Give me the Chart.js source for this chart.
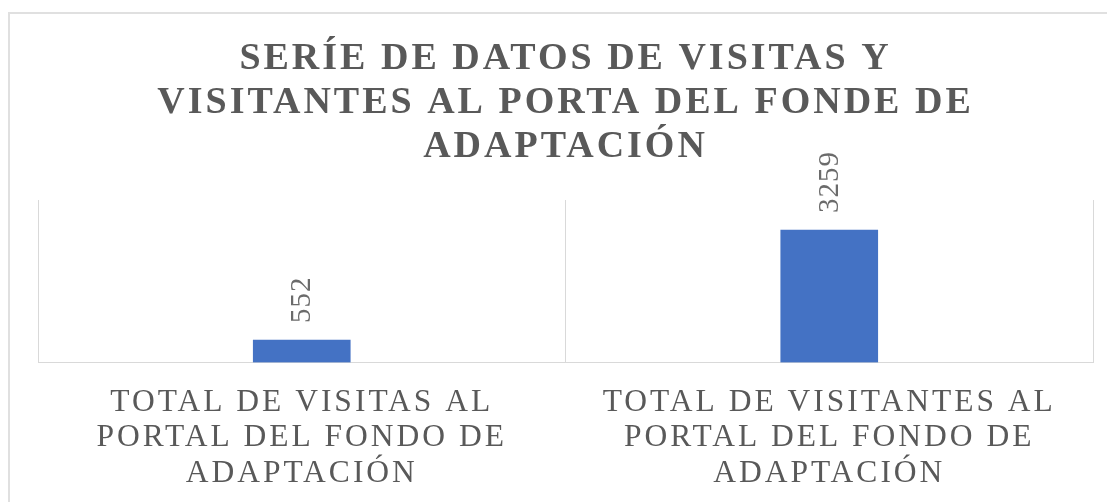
<!DOCTYPE html>
<html>
<head>
<meta charset="utf-8">
<script src="https://cdn.jsdelivr.net/npm/chart.js@4"></script>
<style>
  html, body { margin: 0; padding: 0; background: #fff; overflow: hidden; width: 1107px; height: 502px; }
  #frame { position: absolute; left: 8px; top: 12px; width: 1200px; height: 600px; border: 2px solid #e0e0e0; }
  #wrap { position: absolute; left: 0; top: 0; width: 1107px; height: 513px; }
</style>
</head>
<body>
<div id="frame"></div>
<div id="wrap"><canvas id="chart" width="1107" height="513"></canvas></div>
<script>
// Données du graphique
const categories = [
  ["TOTAL DE VISITAS AL", "PORTAL DEL FONDO DE", "ADAPTACIÓN"],
  ["TOTAL DE VISITANTES AL", "PORTAL DEL FONDO DE", "ADAPTACIÓN"]
];
const values = [552, 3259];
const titleLines = ["SERÍE DE DATOS DE VISITAS Y", "VISITANTES AL PORTA DEL FONDE DE", "ADAPTACIÓN"];

const serif = "'Liberation Serif', 'Times New Roman', serif";
const gray = "#595959";

// Espacement des lettres comme dans Excel
const spacingPlugin = {
  id: "spacing",
  beforeLayout(chart) { chart.ctx.letterSpacing = "3px"; },
  beforeDraw(chart) { chart.ctx.letterSpacing = "3px"; }
};

// Étiquettes de valeurs verticales au-dessus des barres
const valueLabels = {
  id: "valueLabels",
  afterDatasetsDraw(chart) {
    const ctx = chart.ctx;
    const meta = chart.getDatasetMeta(0);
    meta.data.forEach((bar, i) => {
      ctx.save();
      ctx.letterSpacing = "1px";
      ctx.font = "29px " + serif;
      ctx.fillStyle = "#6b6b6b";
      ctx.textAlign = "left";
      ctx.textBaseline = "middle";
      ctx.translate(bar.x + 1, bar.y - 17);
      ctx.rotate(-Math.PI / 2);
      ctx.fillText(String(values[i]), 0, 0);
      ctx.restore();
    });
  }
};

new Chart(document.getElementById("chart"), {
  type: "bar",
  data: {
    labels: categories,
    datasets: [{
      data: values,
      backgroundColor: "#4472C4",
      barThickness: 97
    }]
  },
  options: {
    responsive: false,
    animation: false,
    layout: { padding: { top: 15, left: 38, right: 14, bottom: 0 } },
    plugins: {
      legend: { display: false },
      tooltip: { enabled: false },
      title: {
        display: true,
        text: titleLines,
        color: gray,
        font: { family: serif, size: 38, weight: "bold", lineHeight: 44 / 38 },
        padding: { top: 22, bottom: 31 }
      }
    },
    scales: {
      x: {
        grid: { display: true, color: "#d9d9d9", drawTicks: false, offset: true },
        border: { color: "#d9d9d9" },
        ticks: {
          color: gray,
          padding: 22,
          maxRotation: 0,
          autoSkip: false,
          font: { family: serif, size: 31.5, lineHeight: 35.5 / 31.5 }
        }
      },
      y: {
        display: false,
        min: 0,
        max: 4000
      }
    }
  },
  plugins: [spacingPlugin, valueLabels]
});
</script>
</body>
</html>
